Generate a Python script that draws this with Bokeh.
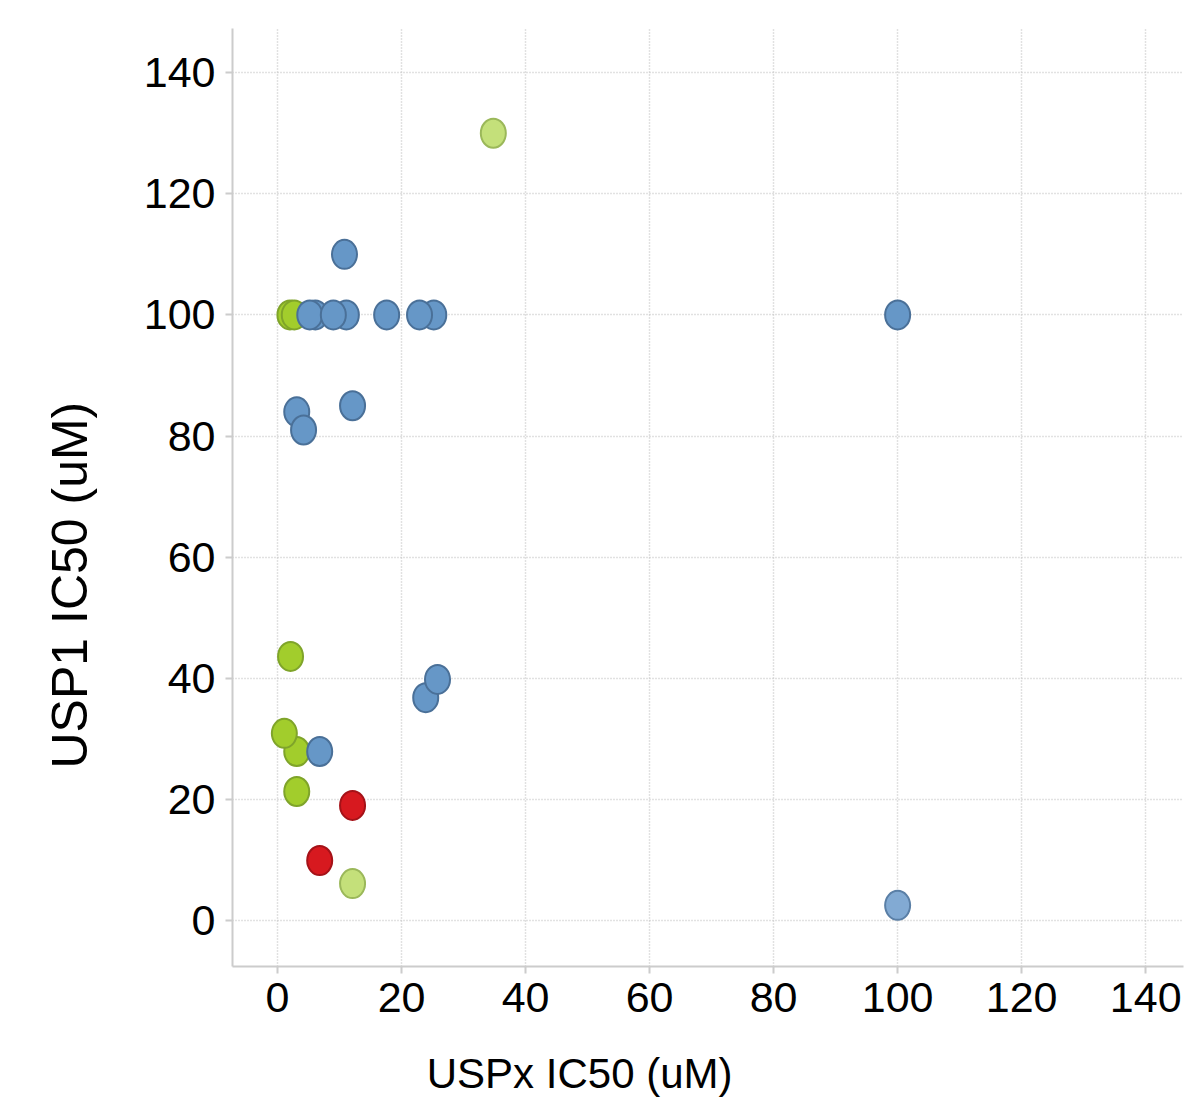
from bokeh.plotting import figure
from bokeh.models import Range1d, FixedTicker, ColumnDataSource, Title
from bokeh.embed import file_html
from bokeh.resources import INLINE

# --- data ---
green_x = [2.0, 2.7, 2.1, 3.1, 1.1, 3.1]
green_y = [100, 100, 43.6, 27.9, 30.9, 21.3]

lightgreen_x = [34.8, 12.1]
lightgreen_y = [130, 6.1]

red_x = [12.1, 6.8]
red_y = [19.0, 9.9]

blue_x = [10.8, 6.1, 5.2, 11.1, 9.0, 17.6, 25.2, 22.9, 100, 3.1, 4.2, 12.1, 23.9, 25.8, 6.8]
blue_y = [110, 100, 100, 100, 100, 100, 100, 100, 100, 84, 81, 85, 36.8, 39.8, 27.9]

lightblue_x = [100]
lightblue_y = [2.5]

ticks = [0, 20, 40, 60, 80, 100, 120, 140]
x_label = "USPx IC50 (uM)"
y_label = "USP1 IC50 (uM)"

FONT = "Liberation Sans"

p = figure(width=1185, height=1099, output_backend="svg", toolbar_location=None,
           x_range=Range1d(-7.26, 146.1), y_range=Range1d(-7.6, 147.3),
           min_border_left=232, min_border_right=2, min_border_top=28, min_border_bottom=133)
p.outline_line_color = None
p.background_fill_color = "white"
p.border_fill_color = "white"

for ax in (p.xaxis[0], p.yaxis[0]):
    ax.ticker = FixedTicker(ticks=ticks)
    ax.axis_line_color = "#cccccc"
    ax.axis_line_width = 2
    ax.major_tick_line_color = "#cccccc"
    ax.major_tick_line_width = 2
    ax.major_tick_out = 7
    ax.major_tick_in = 0
    ax.minor_tick_line_color = None
    ax.major_label_text_font = FONT
    ax.major_label_text_font_size = "43px"
    ax.major_label_text_color = "black"

p.xaxis.major_label_standoff = 9
p.yaxis.major_label_standoff = 10

# x title: axis label, visible text shifted left of the frame centre by trailing no-break spaces
p.xaxis.axis_label = x_label + "\u00a0" * 22
p.xaxis.axis_label_standoff = 35
p.xaxis.axis_label_text_font = FONT
p.xaxis.axis_label_text_font_size = "42px"
p.xaxis.axis_label_text_font_style = "normal"
p.xaxis.axis_label_text_color = "black"

for g in (p.xgrid[0], p.ygrid[0]):
    g.grid_line_color = "#c4c4c4"
    g.grid_line_dash = "1 2"
    g.grid_line_width = 1.5

def add(xs, ys, fill, line):
    src = ColumnDataSource(dict(x=xs, y=ys))
    p.ellipse(x="x", y="y", width=25, height=29, width_units="screen", height_units="screen",
              source=src, fill_color=fill, line_color=line, line_width=2)

add(green_x, green_y, "#a2cd2c", "#7fa42a")
add(lightgreen_x, lightgreen_y, "#c4e07a", "#9bb85a")
add(red_x, red_y, "#d7191f", "#a51218")
add(blue_x, blue_y, "#6697c7", "#4a7098")
add(lightblue_x, lightblue_y, "#82aad3", "#5a7fa6")

yt = Title(text=y_label, align="left", offset=198, vertical_align="top", standoff=81,
           text_font=FONT, text_font_size="50px", text_font_style="normal", text_color="black")
p.add_layout(yt, "left")

open("out.html", "w").write(file_html(p, INLINE))
